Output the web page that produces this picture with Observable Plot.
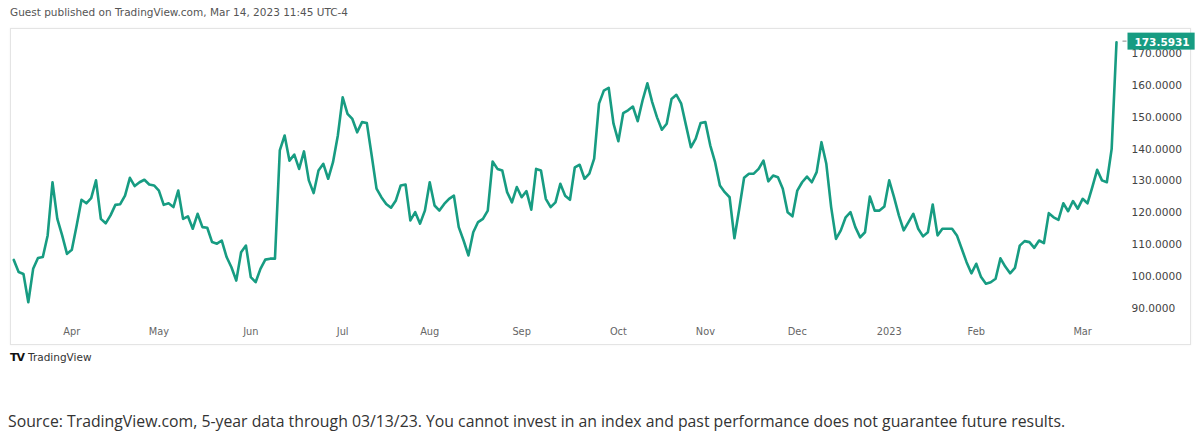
<!DOCTYPE html>
<html><head><meta charset="utf-8">
<script src="https://cdn.jsdelivr.net/npm/d3@7"></script>
<script src="https://cdn.jsdelivr.net/npm/@observablehq/plot@0.6"></script>
<style>
body{margin:0;width:1200px;height:436px;background:#fff;position:relative;overflow:hidden;font-family:"DejaVu Sans",sans-serif}
#hdr{position:absolute;left:10px;top:6px;font-size:10.5px;color:#555;white-space:nowrap}
#frame{position:absolute;left:10px;top:28px;width:1179px;height:315px;border:1px solid #e4e4e4;box-shadow:0 0 2px rgba(0,0,0,.06)}
#chart{position:absolute;left:0;top:29px}
#logo{position:absolute;left:10px;top:351px;font-size:10.5px;color:#333;white-space:nowrap}
#logo b{font-weight:900;color:#111;letter-spacing:-1px;margin-right:4px;font-size:11px}
#cap{position:absolute;left:8px;top:410px;font-family:"Open Sans",sans-serif;font-size:15.8px;color:#333;white-space:nowrap}
</style></head>
<body>
<div id="hdr">Guest published on TradingView.com, Mar 14, 2023 11:45 UTC-4</div>
<div id="frame"></div>
<div id="chart"></div>
<div id="logo"><b>TV</b>TradingView</div>
<div id="cap">Source: TradingView.com, 5-year data through 03/13/23. You cannot invest in an index and past performance does not guarantee future results.</div>
<script>
const values = [
105.2,101.4,100.8,91.9,102.4,105.8,106.1,112.9,129.6,118.1,112.9,107.1,108.4,116.0,124.1,123.0,124.6,130.2,118.1,116.7,
119.2,122.5,122.7,125.4,131.0,128.4,129.6,130.4,128.9,128.6,127.0,122.5,123.0,121.8,127.0,118.1,118.9,115.0,119.7,
115.5,115.3,110.8,110.3,111.3,106.1,102.9,98.7,107.6,109.7,99.8,98.2,102.4,105.3,105.6,105.6,139.6,144.3,136.4,138.3,
133.8,139.3,130.2,126.2,133.3,135.4,130.7,135.9,144.3,156.3,151.1,149.5,145.3,148.5,148.2,138.0,127.6,124.9,122.8,
121.6,123.9,128.6,128.9,117.6,120.2,116.6,120.7,129.6,122.3,120.7,122.8,124.4,125.4,115.5,111.3,106.6,113.9,117.1,118.1,
120.7,136.1,133.8,133.3,126.5,123.3,128.1,124.9,126.8,121.0,133.8,133.3,124.4,121.8,123.3,129.1,125.4,124.1,134.3,135.1,130.7,
132.3,137.0,154.3,158.4,159.3,148.0,142.5,151.3,152.2,153.4,148.8,155.3,160.7,154.8,150.0,146.1,148.0,155.8,157.1,154.3,
147.4,140.6,143.3,148.2,148.5,141.2,135.9,128.6,126.5,124.9,112.0,121.3,131.0,132.3,132.3,133.8,136.4,129.9,131.7,131.2,
127.6,120.2,118.9,127.0,129.6,131.4,129.6,132.8,142.2,135.4,121.8,111.8,114.5,118.6,120.2,115.5,112.3,113.9,125.1,120.7,
120.7,122.0,130.2,124.9,119.2,114.5,117.1,119.7,115.0,112.6,113.9,122.6,112.9,115.0,115.0,115.0,112.9,108.7,104.5,
101.0,104.0,99.8,97.7,98.2,99.3,105.7,103.1,101.0,102.7,109.7,111.1,110.8,109.0,111.3,110.5,119.9,118.6,117.8,123.0,
120.5,123.7,121.3,124.4,123.0,128.1,133.5,130.2,129.6,140.1,173.5931
];
const monthLabels = ["Apr","May","Jun","Jul","Aug","Sep","Oct","Nov","Dec","2023","Feb","Mar"];
const monthStartBar = [12,30,49,68,86,105,125,143,162,181,199,221];
const yTicks = [90,100,110,120,130,140,150,160,170];

const data = values.map((v, i) => ({i, v}));
const last = data[data.length - 1];
const lineColor = "#179c82";

const chart = Plot.plot({
  width: 1200,
  height: 315,
  marginLeft: 13.3,
  marginRight: 84,
  marginTop: 24.2,
  marginBottom: 36.2,
  style: {fontFamily: "DejaVu Sans, sans-serif", fontSize: "10px", color: "#555", background: "transparent", overflow: "visible"},
  x: {domain: [0, values.length - 1]},
  y: {domain: [90, 170]},
  marks: [
    Plot.axisX({ticks: monthStartBar, tickFormat: d => monthLabels[monthStartBar.indexOf(d)], tickSize: 0, tickPadding: 20, label: null, fontSize: 9.8, fill: "#666"}),
    Plot.axisY({anchor: "right", ticks: yTicks, tickFormat: d => d.toFixed(4), tickSize: 0, tickPadding: 15, label: null, fontSize: 10.6, fill: "#444"}),
    Plot.line(data, {x: "i", y: "v", stroke: lineColor, strokeWidth: 2.6, strokeLinejoin: "round", strokeLinecap: "round"}),
    Plot.text([last], {x: "i", y: "v", text: d => d.v.toFixed(4), dx: 18, textAnchor: "start", fill: "white", fontWeight: "bold", fontSize: 10.5})
  ]
});
document.getElementById("chart").append(chart);

// badge background sized from the rendered label
const badgeText = last.v.toFixed(4);
for (const t of chart.querySelectorAll("text")) {
  if (t.textContent === badgeText && (t.getAttribute("fill") === "white" || t.closest("g").getAttribute("fill") === "white")) {
    const b = t.getBBox();
    const ns = "http://www.w3.org/2000/svg";
    const r = document.createElementNS(ns, "rect");
    r.setAttribute("x", b.x - 7);
    r.setAttribute("y", b.y - 3);
    r.setAttribute("width", b.width + 12);
    r.setAttribute("height", b.height + 5);
    r.setAttribute("fill", lineColor);
    const tr = t.getAttribute("transform");
    if (tr) r.setAttribute("transform", tr);
    const tk = document.createElementNS(ns, "line");
    tk.setAttribute("x1", b.x - 12); tk.setAttribute("x2", b.x - 8);
    tk.setAttribute("y1", b.y + b.height / 2 - 0.5); tk.setAttribute("y2", b.y + b.height / 2 - 0.5);
    tk.setAttribute("stroke", "#888");
    if (tr) tk.setAttribute("transform", tr);
    t.parentNode.insertBefore(r, t);
    t.parentNode.insertBefore(tk, t);
    break;
  }
}
</script>
</body></html>
